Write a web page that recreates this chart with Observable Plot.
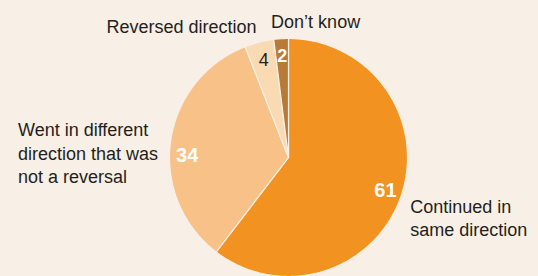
<!DOCTYPE html>
<html>
<head>
<meta charset="utf-8">
<script src="https://cdn.jsdelivr.net/npm/d3@7"></script>
<script src="https://cdn.jsdelivr.net/npm/@observablehq/plot@0.6"></script>
<style>
  html, body { margin: 0; padding: 0; background: #F8EFE6; }
  #chart svg { display: block; background: #F8EFE6; }
</style>
</head>
<body>
<div id="chart"></div>
<script>
// ---- data ----
const categories = ["Continued in same direction", "Went in different direction that was not a reversal", "Reversed direction", "Don’t know"];
const values = [61, 34, 4, 2];
const labelText = ["Continued in\nsame direction", "Went in different\ndirection that was\nnot a reversal", "Reversed direction", "Don’t know"];

// ---- styles / layout ----
const colors = ["#F29220", "#F7C188", "#FADAB3", "#B87A37"];
const bg = "#F8EFE6";
const ink = "#231F20";
const numberFill = ["white", "white", ink, "white"];
const numberWeight = ["bold", "bold", "normal", "bold"];
const numberSize = [20, 20, 18, 18];
const numberRadius = [0.86, 0.86, 0.845, 0.855];
const numberDy = [0, 12, 0, 0];
const labelAnchor = ["start", "start", "end", "start"];
const labelDx = [9, -152.7, -2.7, -10];
const labelDy = [21.4, 11.2, -16.8, -18];

const W = 538, H = 276, R = 119, cx = 288, cy = 157;

const arcs = d3.pie().sort(null).value(d => d)(values);

// polygon points of each slice (angles from 12 o'clock, clockwise)
const slicePts = [];
arcs.forEach((a, i) => {
  slicePts.push({cat: categories[i], x: 0, y: 0});
  const n = Math.max(2, Math.ceil((a.endAngle - a.startAngle) / (2 * Math.PI) * 360));
  for (let k = 0; k <= n; k++) {
    const t = a.startAngle + (a.endAngle - a.startAngle) * k / n;
    slicePts.push({cat: categories[i], x: Math.sin(t), y: Math.cos(t)});
  }
  slicePts.push({cat: categories[i], x: 0, y: 0});
});

const mid = a => (a.startAngle + a.endAngle) / 2;
const numbers = arcs.map((a, i) => ({
  text: String(values[i]),
  x: numberRadius[i] * Math.sin(mid(a)),
  y: numberRadius[i] * Math.cos(mid(a)),
  i
}));
const labels = arcs.map((a, i) => ({
  text: labelText[i],
  x: Math.sin(mid(a)),
  y: Math.cos(mid(a)),
  i
}));

const marks = [
  Plot.line(slicePts, {x: "x", y: "y", z: "cat", fill: "cat", stroke: bg, strokeWidth: 1.2, curve: "linear"})
];
numbers.forEach(d => {
  marks.push(Plot.text([d], {
    x: "x", y: "y", text: "text", dy: numberDy[d.i],
    fill: numberFill[d.i], fontWeight: numberWeight[d.i], fontSize: numberSize[d.i],
    fontFamily: "'Liberation Sans Narrow', 'Arial Narrow', sans-serif"
  }));
});
labels.forEach(d => {
  marks.push(Plot.text([d], {
    x: "x", y: "y", text: "text", dx: labelDx[d.i], dy: labelDy[d.i],
    textAnchor: labelAnchor[d.i], lineAnchor: "middle", lineHeight: 1.3,
    fill: ink, fontSize: 18, fontFamily: "'Liberation Sans', Arial, sans-serif"
  }));
});

const chart = Plot.plot({
  width: W, height: H,
  margin: 0,
  x: {domain: [-cx / R, (W - cx) / R], axis: null},
  y: {domain: [-(H - cy) / R, cy / R], axis: null},
  color: {domain: categories, range: colors},
  style: {background: bg},
  marks
});
document.getElementById("chart").appendChild(chart);
</script>
</body>
</html>
